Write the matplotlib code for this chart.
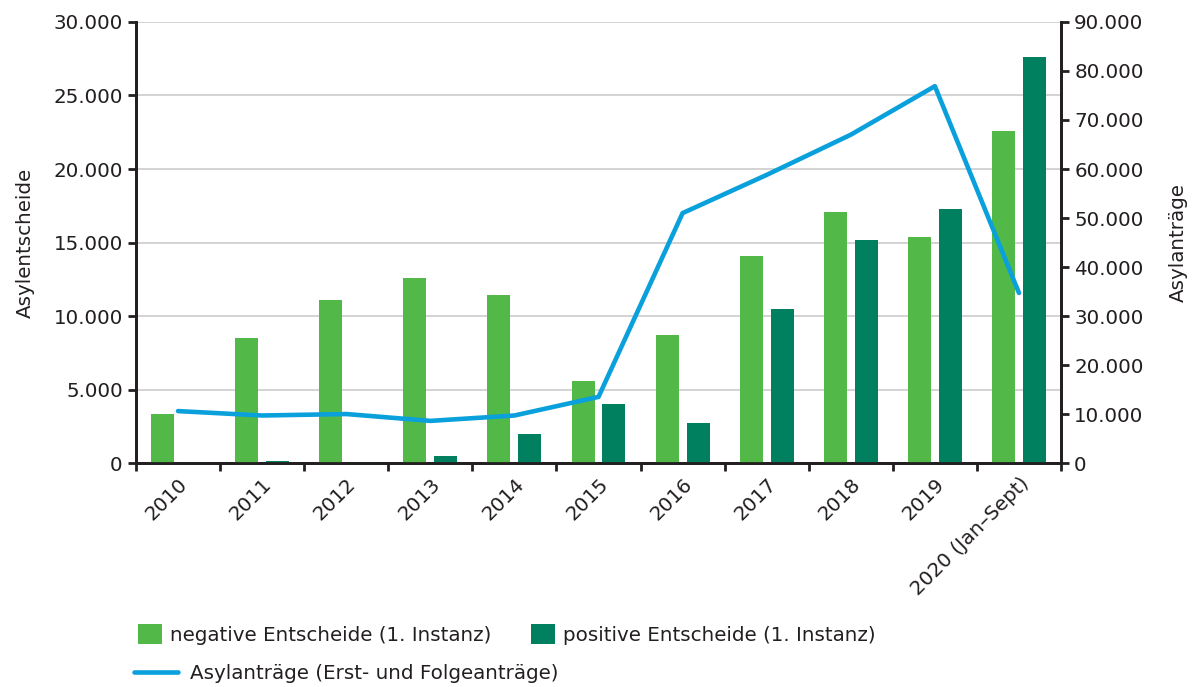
import numpy as np
import matplotlib.pyplot as plt
from matplotlib.ticker import FuncFormatter

plt.rcParams['font.family'] = ['DejaVu Sans']

jahre = ["2010", "2011", "2012", "2013", "2014", "2015", "2016", "2017", "2018", "2019",
         "2020 (Jan–Sept)"]
negativ = [3350, 8500, 11100, 12600, 11400, 5600, 8700, 14100, 17100, 15400, 22600]
positiv = [50, 150, 50, 500, 2000, 4000, 2700, 10500, 15200, 17300, 27600]
antraege = [10600, 9700, 10000, 8600, 9700, 13500, 51000, 58800, 67000, 76900, 34700]

c_neg = '#52b848'
c_pos = '#00805f'
c_line = '#0aa0dc'
txt = '#231f20'
fs = 14.3

fig = plt.figure(figsize=(12, 6.87), dpi=100)
ax = fig.add_axes([0.1133, 0.326, 0.7709, 0.642])
ax2 = ax.twinx()

x = np.arange(len(jahre))
ax.bar(x - 0.184, negativ, width=0.274, color=c_neg, zorder=3, label='negative Entscheide (1. Instanz)')
ax.bar(x + 0.184, positiv, width=0.274, color=c_pos, zorder=3, label='positive Entscheide (1. Instanz)')
ln, = ax2.plot(x, antraege, color=c_line, lw=3.3, solid_capstyle='round',
               label='Asylanträge (Erst- und Folgeanträge)')

fmt = FuncFormatter(lambda v, p: f"{int(v):,}".replace(",", "."))
ax.set_xlim(-0.5, len(jahre) - 0.5)
ax.set_ylim(0, 30000)
ax2.set_ylim(0, 90000)
ax.set_yticks(np.arange(0, 30001, 5000))
ax2.set_yticks(np.arange(0, 90001, 10000))
ax.yaxis.set_major_formatter(fmt)
ax2.yaxis.set_major_formatter(fmt)
ax.yaxis.grid(True, color='#cccccc', lw=1.2, zorder=0)
ax.set_axisbelow(True)

ax.set_xticks(np.arange(-0.5, len(jahre), 1))
ax.set_xticklabels([])
ax.set_xticks(x, minor=True)
ax.set_xticklabels(jahre, minor=True, rotation=45, ha='right', rotation_mode='anchor',
                   fontsize=fs, color=txt)
ax.tick_params(axis='x', which='minor', length=0, pad=8)
ax.tick_params(axis='x', which='major', length=6, width=2, color=txt)
ax.tick_params(axis='y', length=6, width=2, color=txt, labelsize=fs, labelcolor=txt)
ax2.tick_params(axis='y', length=6, width=2, color=txt, labelsize=fs, labelcolor=txt)

for a in (ax, ax2):
    a.spines['top'].set_visible(False)
    for s in ('left', 'right', 'bottom'):
        a.spines[s].set_linewidth(2)
        a.spines[s].set_color(txt)

ax.set_ylabel('Asylentscheide', fontsize=fs, color=txt, labelpad=13)
ax2.set_ylabel('Asylanträge', fontsize=fs, color=txt, labelpad=18)

h, l = ax.get_legend_handles_labels()
fig.legend(h, l, ncol=2, loc='upper left', bbox_to_anchor=(0.1, 0.118), frameon=False,
           fontsize=fs, handlelength=1.2, handleheight=1.2, handletextpad=0.4,
           columnspacing=2.0, labelcolor=txt)
fig.legend([ln], [ln.get_label()], loc='upper left', bbox_to_anchor=(0.097, 0.06), frameon=False,
           fontsize=fs, handlelength=2.2, handletextpad=0.6, labelcolor=txt)

fig.savefig('out.png', dpi=100)
